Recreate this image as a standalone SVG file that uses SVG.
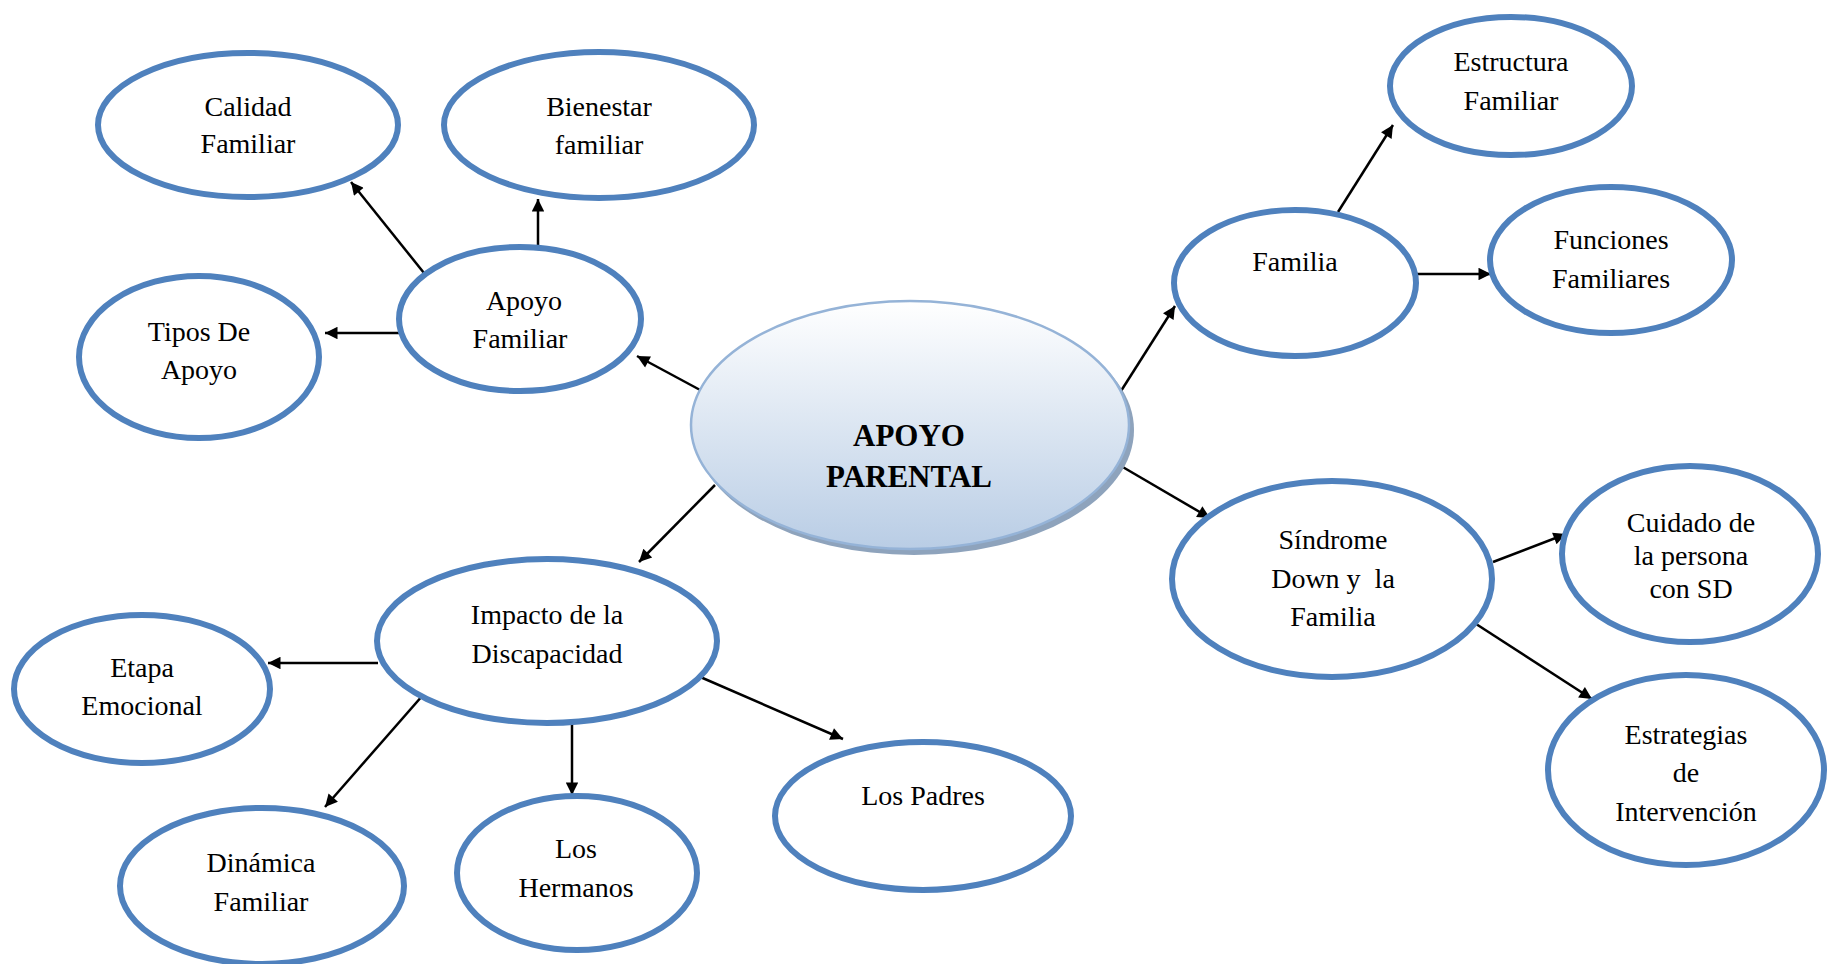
<svg xmlns="http://www.w3.org/2000/svg" width="1837" height="964" viewBox="0 0 1837 964">
<style>
.n{fill:#fff;stroke:#4F81BD;stroke-width:6}
.t{font-family:"Liberation Serif","Times New Roman",serif;font-size:28px;fill:#000;text-anchor:middle}
.b{font-family:"Liberation Serif","Times New Roman",serif;font-size:31px;font-weight:bold;fill:#000;text-anchor:middle}
.c{stroke:#000;stroke-width:2.5;fill:none;marker-end:url(#ah)}
</style>
<defs>
<marker id="ah" viewBox="0 0 10 10" refX="10" refY="5" markerWidth="6" markerHeight="5" markerUnits="strokeWidth" orient="auto">
<path d="M0,0 L10,5 L0,10 Z" fill="#000"/>
</marker>
<linearGradient id="g" x1="0" y1="0" x2="0" y2="1">
<stop offset="0" stop-color="#FFFFFF"/>
<stop offset="1" stop-color="#B9CDE5"/>
</linearGradient>
</defs>
<rect width="1837" height="964" fill="#fff"/>
<g id="connectors">
<line class="c" x1="424" y1="273" x2="351" y2="182"/>
<line class="c" x1="538" y1="248" x2="538" y2="199"/>
<line class="c" x1="401" y1="333" x2="325" y2="333"/>
<line class="c" x1="702" y1="391" x2="637" y2="356"/>
<line class="c" x1="1121" y1="391" x2="1175" y2="306"/>
<line class="c" x1="1338" y1="212" x2="1393" y2="125"/>
<line class="c" x1="1415" y1="274" x2="1491" y2="274"/>
<line class="c" x1="1121" y1="466" x2="1210" y2="518"/>
<line class="c" x1="1493" y1="562" x2="1566" y2="534"/>
<line class="c" x1="1473" y1="622" x2="1592" y2="699"/>
<line class="c" x1="715" y1="485" x2="639" y2="562"/>
<line class="c" x1="378" y1="663" x2="268" y2="663"/>
<line class="c" x1="423" y1="695" x2="325" y2="807"/>
<line class="c" x1="572" y1="724" x2="572" y2="795"/>
<line class="c" x1="698" y1="676" x2="843" y2="739"/>
</g>
<g id="apoyo-parental">
<ellipse cx="914" cy="430" rx="220" ry="125" fill="#8EA3BC"/>
<ellipse cx="910" cy="425" rx="219" ry="124" fill="url(#g)" stroke="#95B3D7" stroke-width="2.5"/>
<text class="b" x="909" y="446">APOYO</text>
<text class="b" x="909" y="487">PARENTAL</text>
</g>
<g id="calidad-familiar">
<ellipse class="n" cx="248" cy="125" rx="150" ry="72"/>
<text class="t" x="248" y="116">Calidad</text>
<text class="t" x="248" y="153">Familiar</text>
</g>
<g id="bienestar-familiar">
<ellipse class="n" cx="599" cy="125" rx="155" ry="73"/>
<text class="t" x="599" y="116">Bienestar</text>
<text class="t" x="599" y="154">familiar</text>
</g>
<g id="apoyo-familiar">
<ellipse class="n" cx="520" cy="319" rx="121" ry="72"/>
<text class="t" x="524" y="310">Apoyo</text>
<text class="t" x="520" y="348">Familiar</text>
</g>
<g id="tipos-de-apoyo">
<ellipse class="n" cx="199" cy="357" rx="120" ry="81"/>
<text class="t" x="199" y="341">Tipos De</text>
<text class="t" x="199" y="379">Apoyo</text>
</g>
<g id="familia">
<ellipse class="n" cx="1295" cy="283" rx="121" ry="73"/>
<text class="t" x="1295" y="271">Familia</text>
</g>
<g id="estructura-familiar">
<ellipse class="n" cx="1511" cy="86" rx="121" ry="69"/>
<text class="t" x="1511" y="71">Estructura</text>
<text class="t" x="1511" y="110">Familiar</text>
</g>
<g id="funciones-familiares">
<ellipse class="n" cx="1611" cy="260" rx="121" ry="73"/>
<text class="t" x="1611" y="249">Funciones</text>
<text class="t" x="1611" y="288">Familiares</text>
</g>
<g id="sindrome-down">
<ellipse class="n" cx="1332" cy="579" rx="160" ry="98"/>
<text class="t" x="1333" y="549">Síndrome</text>
<text class="t" x="1333" y="588" xml:space="preserve">Down y  la</text>
<text class="t" x="1333" y="626">Familia</text>
</g>
<g id="cuidado-persona">
<ellipse class="n" cx="1690" cy="554" rx="128" ry="88"/>
<text class="t" x="1691" y="532">Cuidado de</text>
<text class="t" x="1691" y="565">la persona</text>
<text class="t" x="1691" y="598">con SD</text>
</g>
<g id="estrategias">
<ellipse class="n" cx="1686" cy="770" rx="138" ry="95"/>
<text class="t" x="1686" y="744">Estrategias</text>
<text class="t" x="1686" y="782">de</text>
<text class="t" x="1686" y="821">Intervención</text>
</g>
<g id="impacto">
<ellipse class="n" cx="547" cy="641" rx="170" ry="82"/>
<text class="t" x="547" y="624">Impacto de la</text>
<text class="t" x="547" y="663">Discapacidad</text>
</g>
<g id="etapa-emocional">
<ellipse class="n" cx="142" cy="689" rx="128" ry="74"/>
<text class="t" x="142" y="677">Etapa</text>
<text class="t" x="142" y="715">Emocional</text>
</g>
<g id="dinamica-familiar">
<ellipse class="n" cx="262" cy="886" rx="142" ry="78"/>
<text class="t" x="261" y="872">Dinámica</text>
<text class="t" x="261" y="911">Familiar</text>
</g>
<g id="los-hermanos">
<ellipse class="n" cx="577" cy="873" rx="120" ry="77"/>
<text class="t" x="576" y="858">Los</text>
<text class="t" x="576" y="897">Hermanos</text>
</g>
<g id="los-padres">
<ellipse class="n" cx="923" cy="816" rx="148" ry="74"/>
<text class="t" x="923" y="805">Los Padres</text>
</g>
</svg>
